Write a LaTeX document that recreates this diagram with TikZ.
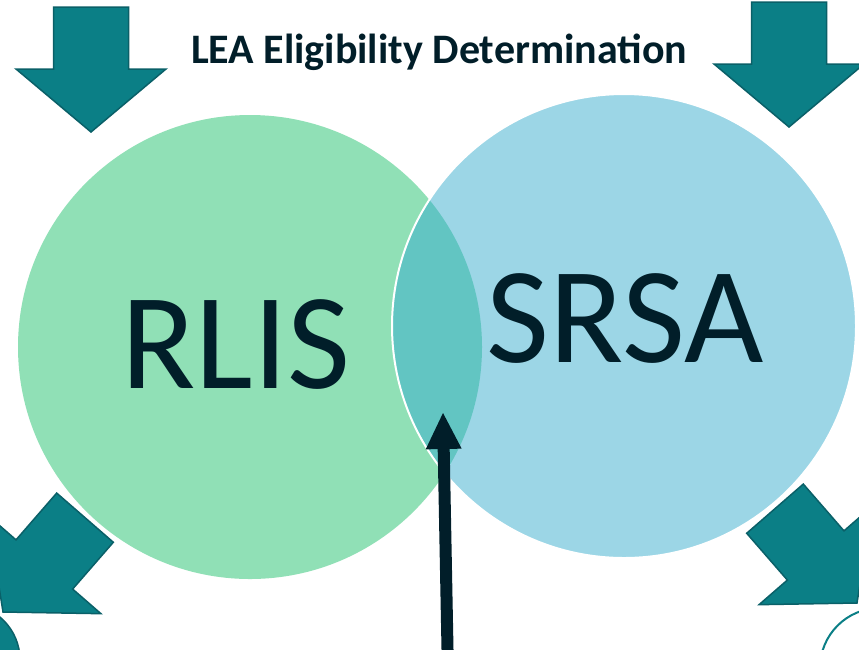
\documentclass[tikz,border=0pt]{standalone}
\usepackage{fontspec}
\setmainfont{Carlito}
\usepackage{tikz}
\usetikzlibrary{arrows.meta, positioning}

\definecolor{rlisgreen}{HTML}{90E0B6}
\definecolor{srsablue}{HTML}{9CD6E6}
\definecolor{overlapteal}{HTML}{62C5C2}
\definecolor{arrowteal}{HTML}{0B7F86}
\definecolor{arrowedge}{HTML}{0A6068}
\definecolor{inkdark}{HTML}{011E29}

% block arrow: tip x, tip y, turn
\newcommand{\blockarrow}[3]{%
  \filldraw[bigarrow, shift={(#1,#2)}, rotate=#3]
    (0,0) -- (75,-63) -- (37.5,-63) -- (37.5,-125)
    -- (-37.5,-125) -- (-37.5,-63) -- (-75,-63) -- cycle;}

\begin{document}
\begin{tikzpicture}
	[x=1pt, y=-1pt,
	 bigarrow/.style={fill=arrowteal, draw=arrowedge, line width=1.5pt, line join=miter},
	 setcircle/.style={circle, minimum size=464pt, inner sep=0pt},
	 bigword/.style={anchor=base, text=inkdark, font=\fontsize{137}{137}\selectfont},
	 pointer/.style={draw=inkdark, line width=12pt,
	   -{Triangle[length=36pt, width=36pt, fill=inkdark, line width=0pt]}}]
   \useasboundingbox (0,0) rectangle (859,649);
   \clip (0,0) rectangle (859,649);
   \fill[white] (0,0) rectangle (859,649);

   \node[setcircle, fill=rlisgreen] (rlis) at (250,347) {};
   \node[setcircle, fill=srsablue] (srsa) at (624,326) {};
   \begin{scope}
     \clip (rlis.center) circle (232pt);
     \fill[overlapteal] (srsa.center) circle (232pt);
   \end{scope}
   \draw[white, line width=2pt] (srsa.center) circle (232pt);

   \node[bigword] (rlistext) at (236,388) {RLIS};
   \node[bigword] (srsatext) at (625,362) {SRSA};
   \node[anchor=base, text=inkdark, font=\bfseries\fontsize{42}{42}\selectfont]
     (title) at (439,63) {LEA Eligibility Determination};

   \blockarrow{91}{132}{0}
   \blockarrow{789}{127}{0}
   \blockarrow{3}{612}{-41}
   \blockarrow{857}{603}{41}

   \node[circle, minimum size=112pt, fill=arrowteal, draw=arrowedge, line width=1.5pt] (leftdot) at (-36,660) {};
   \node[circle, minimum size=120pt, draw=arrowteal, line width=2pt] (rightring) at (880,668) {};

   \coordinate (overlap) at (443,413);
   \coordinate (foot) at (447.7,660);
   \path[pointer] (foot) edge (overlap);
\end{tikzpicture}
\end{document}
